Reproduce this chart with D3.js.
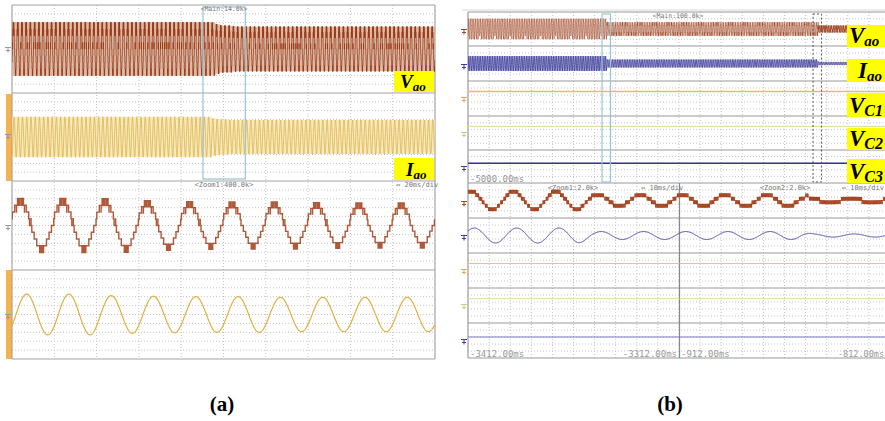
<!DOCTYPE html>
<html><head><meta charset="utf-8">
<script src="https://cdn.jsdelivr.net/npm/d3@7"></script>
<style>body{margin:0;background:#fff}svg{display:block}</style>
</head><body>
<svg id="chart" width="885" height="421"></svg>
<script>
// ---------------- data ----------------
// Capture (a): per 20 ms cycle inside the Zoom1 window (values in div)
const aZoomCycle = [1, 2, 3, 4, 5, 6, 7, 8, 9, 10];
const aVaoPeak   = [3.03, 3.03, 3.00, 2.80, 2.68, 2.65, 2.65, 2.57, 2.54, 2.54];
const aIaoPeak   = [2.29, 2.29, 2.29, 2.12, 2.05, 2.01, 2.01, 1.93, 1.93, 1.93];
const aMainMs    = [0, 2000];        // main record span
const aZoomMs    = [903, 1103];      // Zoom1 window (20 ms/div)
// Capture (b): operating intervals (ms) and per-interval values
const bBreakMs   = [-5000, -3360, -856, 0];
const bVaoRef    = [2.6, 1.6, 0.7];      // modulation reference (levels)
const bIaoPeak   = [2.14, 1.14, 0.45];   // div
const bCapLevel  = [2.0, 1.95, 1.0];     // VC1, VC2, VC3 (div)
const bMainMs    = [-5000, 0];
const bZoom1Ms   = [-3412, -3312];
const bZoom2Ms   = [-912, -812];
// text
const aTexts = {main: "<Main:14.0k>", zoom: "<Zoom1:400.0k>", div: "\u2194 20ms/div"};
const bTexts = {main: "<Main:100.0k>", z1: "<Zoom1:2.0k>", z2: "<Zoom2:2.0k>", div: "\u2194 10ms/div",
  start: "-5000.00ms", t1: "-3412.00ms", t2: "-3312.00ms", t3: "-912.00ms", t4: "-812.00ms"};
const bChannels = [["V", "ao"], ["I", "ao"], ["V", "C1"], ["V", "C2"], ["V", "C3"]];

// ---------------- helpers ----------------
const svg = d3.select("#chart");
const defs = svg.append("defs");
let clipN = 0;
function clip(x, y, w, h) {
  const id = "clip" + (clipN++);
  defs.append("clipPath").attr("id", id).append("rect")
    .attr("x", x).attr("y", y).attr("width", w).attr("height", h);
  return `url(#${id})`;
}
function pwm(r, step, t, tc) {
  const lo = Math.floor(r), fr = r - lo;
  const ph = (((t % tc) + tc) % tc) / tc;
  const tri = ph < 0.5 ? ph * 2 : 2 - ph * 2;
  return step * (lo + (fr > tri ? 1 : 0));
}
function sampleStep(t0, t1, dt, f) {
  const pts = []; let prev = null;
  const n = Math.ceil((t1 - t0) / dt);
  for (let i = 0; i <= n; i++) {
    const t = t0 + i * dt, v = f(t);
    if (v !== prev) { pts.push([t, v]); prev = v; }
  }
  pts.push([t1, prev]);
  return pts;
}
function sampleSmooth(t0, t1, dt, f) {
  const pts = []; const n = Math.ceil((t1 - t0) / dt);
  for (let i = 0; i <= n; i++) { const t = t0 + i * dt; pts.push([t, f(t)]); }
  return pts;
}
function drawPath(g, pts, x, y, curve, stroke, width, opacity, clipUrl) {
  g.append("path").datum(pts)
    .attr("d", d3.line().x(d => x(d[0])).y(d => y(d[1])).curve(curve))
    .attr("fill", "none").attr("stroke", stroke).attr("stroke-width", width)
    .attr("stroke-opacity", opacity).attr("clip-path", clipUrl);
}
// filled envelope band (±peak) behind a dense trace
function drawBand(g, pts, x, y, fill, opacity, clipUrl) {
  g.append("path").datum(pts)
    .attr("d", d3.area().x(d => x(d[0])).y0(d => y(-d[1])).y1(d => y(d[1])).curve(d3.curveStepAfter))
    .attr("fill", fill).attr("fill-opacity", opacity).attr("clip-path", clipUrl);
}
function groundMark(x, y, color) {
  const g = svg.append("g").attr("stroke", color).attr("stroke-width", 1).attr("fill", "none");
  g.append("line").attr("x1", x - 3).attr("x2", x + 3).attr("y1", y - 2.5).attr("y2", y - 2.5);
  g.append("line").attr("x1", x).attr("x2", x).attr("y1", y - 2.5).attr("y2", y + 2.5);
  g.append("line").attr("x1", x - 2).attr("x2", x + 2).attr("y1", y + 0.5).attr("y2", y + 0.5);
}
function smallText(x, y, s, anchor, size, color) {
  svg.append("text").attr("x", x).attr("y", y).text(s)
    .attr("font-family", "DejaVu Sans Mono, monospace").attr("font-size", size || 7)
    .attr("fill", color || "#777").attr("text-anchor", anchor || "start");
}
function chLabel(x, y, w, h, main, sub, mainSize, subSize, tx) {
  svg.append("rect").attr("x", x).attr("y", y).attr("width", w).attr("height", h).attr("fill", "#ffff00");
  const t = svg.append("text").attr("x", tx).attr("y", y + h - 4)
    .attr("font-family", "Liberation Serif, Times New Roman, serif")
    .attr("font-weight", "bold").attr("font-style", "italic");
  t.append("tspan").attr("font-size", mainSize).text(main);
  t.append("tspan").attr("font-size", subSize).attr("dy", 3).text(sub);
}
const grid = "#c4c4c4", frame = "#a4a4a4";

// ================= capture (a) =================
const aL = 12, aR = 435;
const aPanels = [[5, 93], [93, 181], [181, 270], [270, 359]];
const gA = svg.append("g");
// orange side bars
[[94, 181], [270, 359]].forEach(([y0, y1]) =>
  gA.append("rect").attr("x", 6).attr("y", y0).attr("width", 6).attr("height", y1 - y0).attr("fill", "#f6b24e"));
// grid
const aDivX = d3.range(1, 10).map(k => aL + k * (aR - aL) / 10);
aDivX.forEach(x => gA.append("line").attr("x1", x).attr("x2", x).attr("y1", 5).attr("y2", 359)
  .attr("stroke", grid).attr("stroke-dasharray", "1,2"));
aPanels.forEach(([t, b]) => d3.range(1, 10).forEach(k => {
  const y = t + k * (b - t) / 10;
  gA.append("line").attr("x1", aL).attr("x2", aR).attr("y1", y).attr("y2", y)
    .attr("stroke", grid).attr("stroke-dasharray", "1,2");
}));
// frame
[5, 93, 181, 270, 359].forEach(y => gA.append("line").attr("x1", aL).attr("x2", aR).attr("y1", y).attr("y2", y)
  .attr("stroke", frame).attr("stroke-width", 1.2));
[aL, aR].forEach(x => gA.append("line").attr("x1", x).attr("x2", x).attr("y1", 5).attr("y2", 359)
  .attr("stroke", frame).attr("stroke-width", 1.2));

const aCycle = 20, aVaoZero = 902, aIaoZero = 904.9, aLevels = 4, aMod = 3.6, aCarriers = 16;
function perCycle(arr, t, zero) {
  const k = Math.floor((t - zero) / aCycle) - Math.floor((aZoomMs[0] - zero) / aCycle);
  return arr[Math.max(0, Math.min(arr.length - 1, k))];
}
function aVao(t) {
  const peak = perCycle(aVaoPeak, t, aVaoZero);
  const r = aMod * Math.sin(2 * Math.PI * (t - aVaoZero) / aCycle);
  return pwm(r, peak / aLevels, t - aVaoZero, aCycle / aCarriers);
}
function aIao(t) {
  return perCycle(aIaoPeak, t, aIaoZero) * Math.sin(2 * Math.PI * (t - aIaoZero) / aCycle);
}
const axMain = d3.scaleLinear().domain(aMainMs).range([aL, aR]);
const axZoom = d3.scaleLinear().domain(aZoomMs).range([aL, aR]);
const ay = aPanels.map(([t, b]) => d3.scaleLinear().domain([-5, 5]).range([b, t]));
const aClip = aPanels.map(([t, b]) => clip(aL, t, aR - aL, b - t));

drawBand(gA, sampleStep(aMainMs[0], aMainMs[1], 1, t => perCycle(aVaoPeak, t, aVaoZero)), axMain, ay[0], "#cfa58e", 0.75, aClip[0]);
drawPath(gA, sampleStep(aMainMs[0], aMainMs[1], 0.02, aVao), axMain, ay[0], d3.curveStepAfter, "#9c3a14", 1.0, 0.75, aClip[0]);
drawBand(gA, sampleStep(aMainMs[0], aMainMs[1], 1, t => perCycle(aIaoPeak, t, aIaoZero)), axMain, ay[1], "#f5e6b6", 0.8, aClip[1]);
drawPath(gA, sampleSmooth(aMainMs[0], aMainMs[1], 0.25, aIao), axMain, ay[1], d3.curveLinear, "#dcaa2c", 0.9, 0.8, aClip[1]);
drawPath(gA, sampleStep(aZoomMs[0], aZoomMs[1], 0.01, aVao), axZoom, ay[2], d3.curveStepAfter, "#a23c16", 1.4, 0.85, aClip[2]);
drawPath(gA, sampleSmooth(aZoomMs[0], aZoomMs[1], 0.1, aIao), axZoom, ay[3], d3.curveLinear, "#e0b040", 1.2, 1, aClip[3]);

// zoom window box in the main view
gA.append("rect").attr("x", axMain(aZoomMs[0])).attr("y", 7)
  .attr("width", axMain(aZoomMs[1]) - axMain(aZoomMs[0])).attr("height", 172)
  .attr("fill", "none").attr("stroke", "#9cc2d6").attr("stroke-width", 1.2);
smallText(224, 11, aTexts.main, "middle", 6.5);
smallText(224, 187, aTexts.zoom, "middle", 7);
smallText(396, 187, aTexts.div, "start", 7);
[50, 137, 228, 317].forEach(y => groundMark(8, y, "#999"));
chLabel(394, 71, 40, 21, "V", "ao", 19, 13, 400);
chLabel(394, 158, 40, 22, "I", "ao", 19, 13, 406);

// ================= capture (b) =================
const bL = 468, bR = 890;
const bRowsMain = [12, 46, 81, 116, 150, 183];
const bRowsZoom = [183, 218, 253, 288, 323, 358];
const gB = svg.append("g");
// grid
d3.range(1, 20).forEach(k => {
  const x = bL + k * (bR - bL) / 20;
  gB.append("line").attr("x1", x).attr("x2", x).attr("y1", 12).attr("y2", 358)
    .attr("stroke", grid).attr("stroke-dasharray", "1,2");
});
[bRowsMain, bRowsZoom].forEach(rows => d3.range(5).forEach(i => {
  const t = rows[i], b = rows[i + 1];
  d3.range(1, 5).forEach(k => {
    const y = t + k * (b - t) / 5;
    gB.append("line").attr("x1", bL).attr("x2", 885).attr("y1", y).attr("y2", y)
      .attr("stroke", grid).attr("stroke-dasharray", "1,2");
  });
}));
// frame
bRowsMain.concat(bRowsZoom.slice(1)).forEach(y => gB.append("line").attr("x1", bL).attr("x2", 885)
  .attr("y1", y).attr("y2", y).attr("stroke", "#9a9a9a").attr("stroke-width", 1.2));
gB.append("line").attr("x1", bL).attr("x2", bL).attr("y1", 12).attr("y2", 358).attr("stroke", "#9a9a9a").attr("stroke-width", 1.2);
gB.append("line").attr("x1", 462).attr("x2", 885).attr("y1", 10).attr("y2", 10).attr("stroke", "#d8d8d8");
const bMid = (bL + bR) / 2 + 0.5;
gB.append("line").attr("x1", bMid).attr("x2", bMid).attr("y1", 183).attr("y2", 358).attr("stroke", "#888").attr("stroke-width", 1.2);

const bCycle = 20, bVaoZero = -3415.5, bIaoZero = -3414, bStep = 1.0, bCarriers = 40, bRamp = 8;
// interval value with a short linear ramp across each break
function seg(arr, t) {
  let i = 0; while (i < arr.length - 1 && t >= bBreakMs[i + 1]) i++;
  if (i > 0 && t - bBreakMs[i] < bRamp) {
    const u = (t - bBreakMs[i]) / bRamp; return arr[i - 1] + (arr[i] - arr[i - 1]) * u;
  }
  return arr[i];
}
function bVao(t) {
  const r = seg(bVaoRef, t) * Math.sin(2 * Math.PI * (t - bVaoZero) / bCycle);
  return pwm(r, bStep, t - bVaoZero, bCycle / bCarriers);
}
function bIao(t) { return seg(bIaoPeak, t) * Math.sin(2 * Math.PI * (t - bIaoZero) / bCycle); }

const bxMain = d3.scaleLinear().domain(bMainMs).range([bL, bR]);
const bxZ1 = d3.scaleLinear().domain(bZoom1Ms).range([bL, bMid]);
const bxZ2 = d3.scaleLinear().domain(bZoom2Ms).range([bMid, bR]);
const byMain = d3.range(5).map(i => d3.scaleLinear().domain([-5, 5]).range([bRowsMain[i + 1], bRowsMain[i]]));
const byZoom = d3.range(5).map(i => d3.scaleLinear().domain([-5, 5]).range([bRowsZoom[i + 1], bRowsZoom[i]]));
const cMain = d3.range(5).map(i => clip(bL, bRowsMain[i], 885 - bL, bRowsMain[i + 1] - bRowsMain[i]));
const cZ1 = d3.range(5).map(i => clip(bL, bRowsZoom[i], bMid - bL, bRowsZoom[i + 1] - bRowsZoom[i]));
const cZ2 = d3.range(5).map(i => clip(bMid, bRowsZoom[i], 885 - bMid, bRowsZoom[i + 1] - bRowsZoom[i]));

drawPath(gB, sampleSmooth(bMainMs[0], bMainMs[1], 0.9, bVao), bxMain, byMain[0], d3.curveLinear, "#9c3a14", 0.6, 0.85, cMain[0]);
drawPath(gB, sampleSmooth(bMainMs[0], bMainMs[1], 0.9, bIao), bxMain, byMain[1], d3.curveLinear, "#22228e", 0.7, 1, cMain[1]);
drawPath(gB, sampleStep(bZoom1Ms[0], bZoom1Ms[1], 0.01, bVao), bxZ1, byZoom[0], d3.curveStepAfter, "#a23c16", 1, 0.85, cZ1[0]);
drawPath(gB, sampleStep(bZoom2Ms[0], bZoom2Ms[1], 0.01, bVao), bxZ2, byZoom[0], d3.curveStepAfter, "#a23c16", 1, 0.85, cZ2[0]);
drawPath(gB, sampleSmooth(bZoom1Ms[0], bZoom1Ms[1], 0.1, bIao), bxZ1, byZoom[1], d3.curveLinear, "#4040a4", 1, 1, cZ1[1]);
drawPath(gB, sampleSmooth(bZoom2Ms[0], bZoom2Ms[1], 0.1, bIao), bxZ2, byZoom[1], d3.curveLinear, "#4040a4", 1, 1, cZ2[1]);

const capMainColor = ["#f2b866", "#dde6a0", "#333392"];
const capZoomColor = ["#f2c070", "#dfe6a8", "#7a7ac4"];
const capWidth = [1.3, 1.3, 1.6];
bCapLevel.forEach((v, i) => {
  [[bxMain, bMainMs, byMain, cMain, capMainColor, capWidth[i]], [bxZ1, bZoom1Ms, byZoom, cZ1, capZoomColor, 1.2], [bxZ2, bZoom2Ms, byZoom, cZ2, capZoomColor, 1.2]]
    .forEach(([x, dom, ys, cl, col, w]) =>
      drawPath(gB, [[dom[0], v], [dom[1], v]], x, ys[i + 2], d3.curveLinear, col[i], w, 1, cl[i + 2]));
});

// zoom window markers in the main view
gB.append("rect").attr("x", bxMain(bZoom1Ms[0])).attr("y", 14)
  .attr("width", bxMain(bZoom1Ms[1]) - bxMain(bZoom1Ms[0])).attr("height", 168)
  .attr("fill", "none").attr("stroke", "#9cc2d6").attr("stroke-width", 1.2);
gB.append("rect").attr("x", bxMain(bZoom2Ms[0])).attr("y", 14)
  .attr("width", bxMain(bZoom2Ms[1]) - bxMain(bZoom2Ms[0])).attr("height", 168)
  .attr("fill", "none").attr("stroke", "#555").attr("stroke-width", 1).attr("stroke-dasharray", "2,2");

smallText(678, 18, bTexts.main, "middle", 6.5);
smallText(470, 182, bTexts.start, "start", 9, "#999");
smallText(573, 190, bTexts.z1, "middle", 7);
smallText(641, 190, bTexts.div, "start", 7);
smallText(785, 190, bTexts.z2, "middle", 7);
smallText(884, 190, bTexts.div, "end", 7);
smallText(470, 357, bTexts.t1, "start", 9, "#999");
smallText(677, 357, bTexts.t2, "end", 9, "#999");
smallText(681, 357, bTexts.t3, "start", 9, "#999");
smallText(884, 357, bTexts.t4, "end", 8.5, "#999");

const markColors = ["#a8461e", "#3a3aa8", "#e8a850", "#c8d080", "#4040a0"];
[32, 67, 100, 135, 169].forEach((y, i) => groundMark(464, y, markColors[i]));
[204, 238, 272, 307, 342].forEach((y, i) => groundMark(464, y, markColors[i]));

const bBoxes = [[25, 22], [59, 23], [93, 24], [128, 22], [159, 24]];
bChannels.forEach(([m, s], i) => {
  const [y, h] = bBoxes[i];
  chLabel(847, y, 45, h, m, s, 23, s === "ao" ? 15 : 16, m === "I" ? 858 : 849);
});

// captions
[[222, "(a)"], [670, "(b)"]].forEach(([x, s]) => svg.append("text").attr("x", x).attr("y", 411)
  .attr("text-anchor", "middle").attr("font-family", "Liberation Serif, Times New Roman, serif")
  .attr("font-weight", "bold").attr("font-size", 21).text(s));
</script>
</body></html>
